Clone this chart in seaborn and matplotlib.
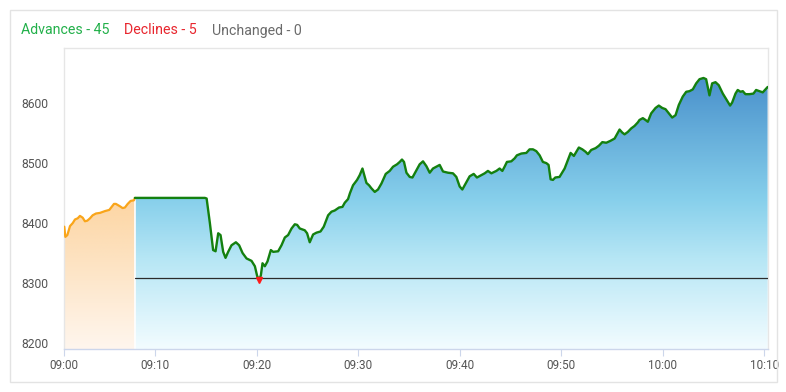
import numpy as np
import pandas as pd
import matplotlib
matplotlib.use("Agg")
import matplotlib.pyplot as plt
from matplotlib.colors import LinearSegmentedColormap
from matplotlib.patches import Rectangle
import seaborn as sns

# ---------------- data (minutes after 09:00, index value) ----------------
pre_minutes = [1.08, 1.18, 1.38, 1.64, 1.91, 2.13, 2.40, 2.62, 2.89, 3.11, 3.34, 3.61,
               3.87, 4.20, 4.59, 5.08, 5.51, 5.74, 5.97, 6.16, 6.56, 6.82, 7.05, 7.32,
               7.61, 7.93, 8.03]
pre_values = [8394, 8377, 8380, 8395, 8400, 8406, 8408, 8412, 8409, 8403, 8404, 8408,
              8413, 8416, 8417, 8420, 8422, 8427, 8432, 8432, 8428, 8425, 8426, 8432,
              8437, 8438, 8442]

mkt_minutes = [8.03, 14.92, 15.09, 15.41, 15.73, 15.97, 16.23, 16.46, 16.72, 16.95, 17.21,
               17.54, 17.97, 18.29, 18.63, 19.02, 19.51, 19.84, 20.06, 20.26, 20.43, 20.59,
               20.82, 21.08, 21.41, 21.64, 22.13, 22.46, 22.79, 23.11, 23.45, 23.77, 24.00,
               24.26, 24.75, 24.98, 25.24, 25.57, 25.90, 26.30, 26.62, 27.05, 27.38, 27.70,
               28.13, 28.46, 28.69, 29.01, 29.20, 29.50, 29.90, 30.16, 30.43, 30.66, 30.82,
               31.08, 31.31, 31.64, 31.96, 32.30, 32.72, 33.11, 33.44, 33.83, 34.10, 34.32,
               34.52, 34.76, 35.08, 35.35, 35.67, 36.06, 36.39, 36.72, 37.05, 37.37, 37.71,
               38.03, 38.36, 38.85, 39.34, 39.67, 40.00, 40.26, 40.59, 40.98, 41.38, 41.70,
               42.13, 42.46, 42.78, 43.12, 43.61, 43.93, 44.20, 44.42, 44.65, 45.08, 45.41,
               45.63, 46.07, 46.56, 46.88, 47.21, 47.54, 47.87, 48.19, 48.53, 48.75, 48.95,
               49.18, 49.41, 49.83, 50.33, 50.65, 50.92, 51.24, 51.48, 51.73, 52.07, 52.39,
               52.62, 52.95, 53.38, 53.70, 54.04, 54.43, 54.82, 55.25, 55.74, 56.00, 56.23,
               56.55, 56.89, 57.21, 57.54, 57.70, 58.03, 58.29, 58.52, 58.85, 59.28, 59.60,
               59.94, 60.26, 60.59, 60.92, 61.25, 61.57, 61.96, 62.30, 62.62, 62.95, 63.28,
               63.61, 64.00, 64.26, 64.59, 64.85, 65.18, 65.50, 65.90, 66.29, 66.62, 66.82,
               67.15, 67.37, 67.64, 67.87, 68.13, 68.52, 68.92, 69.18, 69.51, 69.83, 70.32]
mkt_values = [8442, 8442, 8441, 8400, 8355, 8353, 8383, 8380, 8352, 8342, 8352,
              8363, 8368, 8363, 8350, 8341, 8337, 8328, 8312, 8305, 8313, 8333,
              8328, 8336, 8355, 8352, 8353, 8363, 8376, 8380, 8391, 8398, 8397,
              8391, 8388, 8383, 8368, 8381, 8384, 8386, 8394, 8413, 8419, 8421,
              8426, 8427, 8434, 8440, 8450, 8463, 8472, 8480, 8491, 8477, 8467,
              8463, 8458, 8452, 8456, 8466, 8482, 8487, 8494, 8498, 8502, 8506,
              8502, 8484, 8477, 8476, 8486, 8498, 8503, 8495, 8484, 8491, 8494,
              8497, 8486, 8484, 8483, 8477, 8461, 8456, 8466, 8478, 8482, 8476,
              8480, 8483, 8487, 8483, 8487, 8491, 8487, 8494, 8502, 8503, 8508,
              8513, 8516, 8517, 8523, 8523, 8520, 8513, 8502, 8500, 8497, 8473,
              8472, 8476, 8477, 8491, 8505, 8517, 8512, 8519, 8526, 8523, 8519,
              8515, 8522, 8525, 8529, 8535, 8534, 8537, 8541, 8556, 8551, 8548,
              8552, 8558, 8562, 8568, 8572, 8575, 8572, 8569, 8583, 8592, 8596,
              8592, 8590, 8583, 8576, 8580, 8597, 8611, 8619, 8620, 8623, 8633,
              8640, 8642, 8640, 8613, 8633, 8635, 8630, 8616, 8605, 8596, 8601,
              8616, 8622, 8619, 8620, 8615, 8615, 8616, 8622, 8620, 8618, 8627]

prev_close = 8308
low_minute, low_value = 20.26, 8305

y_ticks = [8200, 8300, 8400, 8500, 8600]
x_tick_pos = [1.05, 10, 20, 30, 40, 50, 60, 70]
x_tick_labels = ["09:00", "09:10", "09:20", "09:30", "09:40", "09:50", "10:00", "10:10"]

legend_items = [("Advances - 45", "#22b04a"), ("Declines - 5", "#e8262e"),
                ("Unchanged - 0", "#6b6b6b")]

# ---------------- styling ----------------
sns.set_theme(style="white")
plt.rcParams["font.family"] = ["Roboto", "DejaVu Sans"]

XMIN, XMAX = 1.05, 70.35
YMIN, YMAX = 8190, 8692

fig = plt.figure(figsize=(7.86, 3.92), dpi=100)
ax = fig.add_axes([64 / 786, 1 - 349 / 392, (768 - 64) / 786, (349 - 48) / 392])

# outer light border
fig.patches.append(Rectangle((10 / 786, 10 / 392), 767 / 786, 372 / 392,
                             transform=fig.transFigure, fill=False,
                             edgecolor="#e3e3e3", lw=1.0))

pre = pd.DataFrame({"minute": pre_minutes, "value": pre_values})
mkt = pd.DataFrame({"minute": mkt_minutes, "value": mkt_values})


def gradient_fill(ax, x, y, colors, stops, y0, y1, zorder):
    poly = ax.fill_between(x, y, YMIN, color="none", lw=0)
    path = poly.get_paths()[0]
    cmap = LinearSegmentedColormap.from_list("g", list(zip(stops, colors)))
    grad = np.linspace(1, 0, 400).reshape(-1, 1)
    img = ax.imshow(grad, cmap=cmap, aspect="auto", origin="upper",
                    extent=[min(x), max(x), y0, y1], zorder=zorder,
                    interpolation="bilinear")
    img.set_clip_path(path, ax.transData)


gradient_fill(ax, pre["minute"].values, pre["value"].values,
              ["#fff6ee", "#fde2c0", "#fdd5a2"], [0, 0.6, 1], YMIN, 8442, 1)
gradient_fill(ax, mkt["minute"].values, mkt["value"].values,
              ["#f2fcff", "#b6e6f5", "#86cfeb", "#3b82c4"], [0, 0.3, 0.5, 1],
              YMIN, YMAX, 1)

# white separator between pre-open and market areas
ax.plot([mkt_minutes[0], mkt_minutes[0]], [YMIN, pre_values[-1]], color="white",
        lw=1.2, zorder=2)

# previous close line
ax.plot([mkt_minutes[0], XMAX], [prev_close, prev_close], color="#2b2b2b", lw=0.9,
        zorder=3)

sns.lineplot(data=pre, x="minute", y="value", ax=ax, color="#f9a51a", lw=1.6,
             sort=False, zorder=4)
sns.lineplot(data=mkt, x="minute", y="value", ax=ax, color="#14800f", lw=1.7,
             sort=False, zorder=4)
ax.plot([low_minute], [low_value], marker="v", color="#ff1a1a", ms=4.5, zorder=5,
        ls="none")

ax.set_xlim(XMIN, XMAX)
ax.set_ylim(YMIN, YMAX)
ax.set_xlabel("")
ax.set_ylabel("")
ax.set_yticks(y_ticks)
ax.set_yticklabels([str(v) for v in y_ticks])
ax.set_xticks(x_tick_pos)
ax.set_xticklabels(x_tick_labels)
ax.tick_params(axis="y", length=0, pad=11.5, labelsize=8.7, labelcolor="#555555")
ax.tick_params(axis="x", length=5, width=0.8, color="#ccd6eb", pad=2,
               labelsize=8.5, labelcolor="#555555", direction="out", bottom=True)
for side in ["left", "top", "right"]:
    ax.spines[side].set_color("#e6e6e6")
    ax.spines[side].set_linewidth(1.0)
ax.spines["bottom"].set_color("#ccd6eb")
ax.spines["bottom"].set_linewidth(1.0)
ax.grid(False)

# legend text at top
x_px = 21
for txt, col in legend_items:
    t = fig.text(x_px / 786, 1 - 30.5 / 392, txt, color=col, fontsize=10.2,
                 va="center", ha="left")
    fig.canvas.draw()
    bb = t.get_window_extent()
    x_px = bb.x1 + 15

fig.savefig("out.png", dpi=100)
